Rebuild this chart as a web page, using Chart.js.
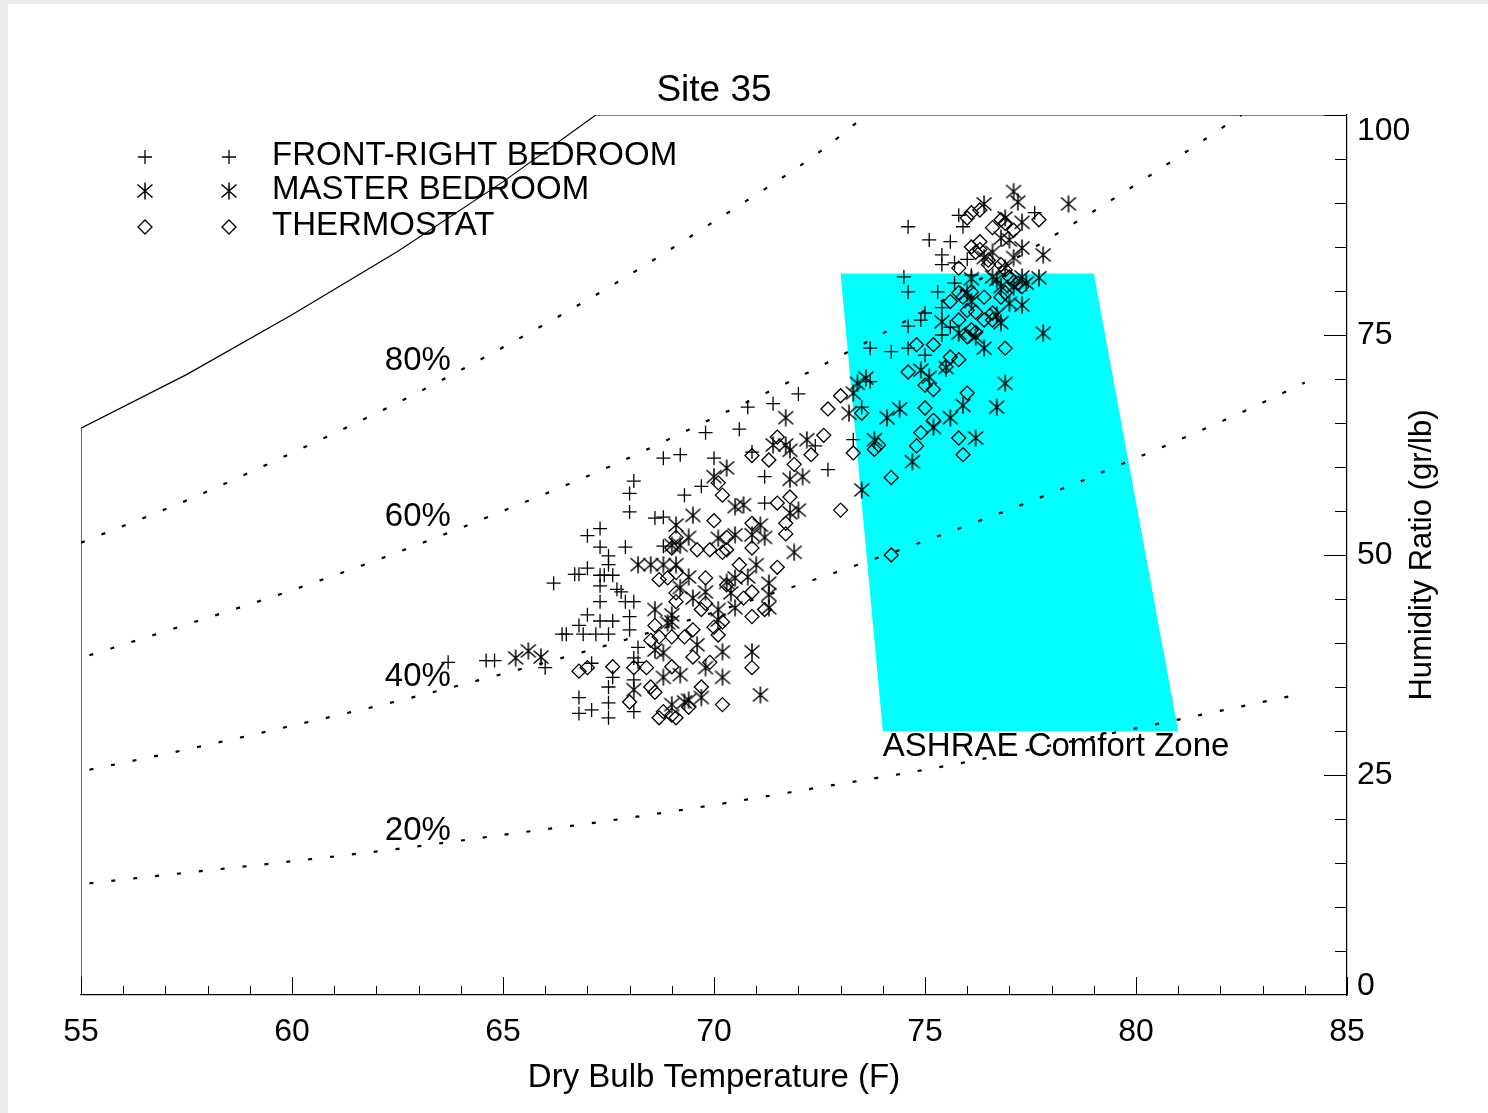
<!DOCTYPE html>
<html>
<head>
<meta charset="utf-8">
<script src="https://cdn.jsdelivr.net/npm/chart.js@4.4.1/dist/chart.umd.min.js"></script>
<style>
  html, body { margin: 0; padding: 0; background: #ececec; }
  #wrap { position: absolute; left: 8px; top: 4px; width: 1480px; height: 1109px; background: #fff; }
</style>
</head>
<body>
<div id="wrap"><canvas id="chart" width="1480" height="1109"></canvas></div>
<script>
const FONT = "'Liberation Sans', Arial, sans-serif";

// axis ticks
const xTicks = [55, 60, 65, 70, 75, 80, 85];
const yTicks = [0, 25, 50, 75, 100];

// relative humidity curves, [dry bulb F, gr/lb]
const rh20 = [[55.2, 12.7], [57.5, 13.9], [60, 15.2], [62.5, 16.6], [65, 18.2], [67.5, 19.8], [70, 21.6],
  [72.5, 23.6], [75, 25.6], [77.5, 27.9], [80, 30.3], [82.5, 32.8], [83.8, 34.1]];
const rh40 = [[55.2, 25.6], [57.5, 27.9], [60, 30.6], [62.5, 33.4], [65, 36.5], [67.5, 39.8], [70, 43.5],
  [72.5, 47.4], [75, 51.6], [77.5, 56.1], [80, 61.0], [82.5, 66.2], [84, 69.6]];
const rh60 = [[55.2, 38.6], [57.5, 42.1], [60, 46.0], [62.5, 50.3], [65, 55.0], [67.5, 60.0], [70, 65.6],
  [72.5, 71.4], [75, 77.8], [77.5, 84.7], [80, 92.1], [82.5, 100]];
const rh80 = [[55, 51.4], [57.5, 56.2], [60, 61.6], [62.5, 67.3], [65, 73.6], [67.5, 80.4], [70, 87.9],
  [72.5, 95.8], [73.6, 100]];
// saturation line with the left edge and the top edge of the frame
const saturation = [[55, 0], [55, 64.4], [57.5, 70.5], [60, 77.3], [62.5, 84.5], [65, 92.4], [67.2, 100], [85, 100]];

const rhLabels = ['80%', '60%', '40%', '20%'];
const rhLabelAt = [[62.2, 72.0], [62.2, 54.3], [62.2, 36.1], [62.2, 18.6]];

// ASHRAE comfort zone corners
const comfortT = [73, 79, 81, 74, 73];
const comfortW = [82, 82, 30, 30, 82];

const frontRight = [
  [63.7, 37.8], [64.6, 38.0], [64.8, 38.0], [66.0, 37.2], [67.1, 37.7],
  [66.2, 46.8], [66.7, 47.8], [66.8, 47.8], [67.0, 48.5], [67.3, 47.7], [67.4, 47.7], [67.5, 48.9], [67.6, 47.7],
  [67.3, 46.5], [67.7, 46.1], [67.8, 45.8], [67.3, 44.7], [67.9, 44.7], [68.1, 44.7], [67.0, 43.2], [67.3, 42.5],
  [67.6, 42.5], [68.0, 43.0], [66.8, 42.0], [66.4, 41.0], [66.5, 41.0], [66.9, 41.0], [67.2, 41.0], [67.5, 41.0],
  [68.0, 41.5], [68.2, 39.5], [68.1, 38.3], [67.6, 36.1], [67.5, 35.0], [66.8, 33.8], [66.8, 32.0], [67.1, 32.4],
  [67.5, 33.2], [67.5, 31.5], [68.1, 32.2], [68.2, 37.8], [68.1, 35.8],
  [68.1, 58.4], [68.0, 57.0], [68.0, 54.9], [68.6, 54.2], [67.3, 53.0], [67.0, 52.2], [67.3, 50.9], [67.9, 50.9],
  [67.5, 49.9],
  [72.0, 68.3], [71.4, 67.2], [70.8, 66.8], [70.6, 64.3], [69.8, 63.9], [68.8, 61.0], [69.2, 61.4], [70.0, 61.0],
  [70.9, 61.7], [72.4, 62.4], [72.7, 59.7], [71.2, 58.9], [69.7, 57.8], [69.3, 56.8], [71.2, 55.9], [68.8, 54.3],
  [68.8, 51.0], [73.3, 63.1], [73.5, 66.8], [73.7, 69.7],
  [74.6, 87.3], [75.1, 85.8], [75.8, 88.6], [75.6, 85.6], [75.4, 84.1], [75.4, 83.0], [75.7, 83.2], [76.0, 83.6],
  [74.5, 81.6], [74.6, 79.9], [75.3, 79.9], [75.7, 80.9], [76.1, 81.8], [75.4, 78.1], [75.0, 77.5], [74.9, 76.7],
  [74.6, 76.0], [75.6, 75.9], [75.4, 75.0], [73.7, 73.5], [74.2, 73.1], [74.6, 73.5], [75.0, 72.7], [77.6, 88.9],
  [75.9, 87.3]
];

const masterBed = [
  [65.3, 38.3], [65.6, 39.1], [65.9, 38.4], [68.2, 48.9], [68.5, 48.9], [68.6, 43.8], [68.6, 39.2], [68.1, 34.7],
  [71.7, 65.6], [73.2, 66.1], [73.3, 68.4], [73.4, 69.5], [72.2, 63.1], [71.4, 62.5], [71.7, 62.5], [71.8, 61.9],
  [70.3, 59.9], [70.0, 58.9], [71.8, 58.6], [72.1, 58.9], [73.5, 57.4], [70.5, 55.5], [70.7, 55.7], [71.8, 54.8],
  [72.0, 55.1], [69.5, 54.5], [69.1, 53.4], [71.1, 53.4], [69.4, 52.0], [70.1, 51.9], [70.5, 52.3], [70.9, 52.3],
  [71.2, 52.0], [69.0, 51.1], [69.2, 51.1], [71.9, 50.3], [73.8, 63.1],
  [69.1, 48.9], [69.4, 47.5], [68.8, 48.9], [71.0, 48.9], [70.5, 47.4], [70.3, 46.9], [70.8, 47.5], [71.3, 46.8],
  [70.4, 45.7], [69.8, 45.8], [69.5, 45.1], [69.2, 46.3], [71.3, 45.5], [70.5, 44.0], [71.3, 44.0], [70.1, 43.8],
  [70.1, 42.6], [69.0, 43.2], [69.0, 42.4], [68.9, 42.3], [69.6, 39.8], [70.2, 39.0], [70.9, 39.0], [68.8, 38.9],
  [69.2, 36.4], [68.8, 36.1], [69.8, 37.2], [70.2, 36.1], [69.7, 33.8], [69.3, 33.3], [69.4, 33.5], [69.0, 33.0],
  [71.1, 34.1],
  [77.1, 91.3], [77.2, 90.1], [76.4, 89.9], [78.4, 89.9], [76.9, 88.3], [77.3, 87.8], [76.8, 86.0], [77.0, 85.8],
  [77.3, 84.9], [77.8, 84.1], [76.6, 84.4], [76.4, 83.8], [76.9, 82.6], [77.1, 83.8], [77.7, 81.5], [77.3, 81.6],
  [77.4, 80.9], [76.6, 81.6], [76.7, 81.3], [76.1, 81.4], [76.8, 80.5], [77.1, 80.5], [76.0, 79.8], [76.1, 78.8],
  [77.0, 78.6], [77.3, 78.4], [76.7, 77.3], [76.8, 76.4], [75.8, 75.2], [75.4, 76.5], [76.2, 74.8], [76.4, 73.5],
  [77.8, 75.2], [75.5, 71.3], [74.9, 71.0], [75.1, 70.2], [73.6, 70.1],
  [76.9, 69.5], [75.9, 67.0], [76.7, 66.8], [74.4, 66.6], [74.1, 65.6], [75.6, 65.6], [75.2, 64.5], [76.2, 63.3],
  [74.7, 60.6]
];

const thermostat = [
  [66.8, 36.8], [67.0, 37.2], [67.6, 37.3], [68.1, 37.2], [68.4, 37.2], [68.0, 33.3], [68.5, 35.0], [68.6, 34.4],
  [68.6, 42.0], [68.7, 40.7], [68.5, 40.3], [68.7, 47.2],
  [73.0, 68.1], [72.7, 66.6], [73.5, 66.1], [72.6, 63.6], [71.5, 63.4], [70.9, 61.3], [71.3, 60.8], [72.3, 61.4],
  [71.9, 60.3], [73.3, 61.6], [73.8, 62.0], [70.1, 58.2], [70.2, 56.8], [71.5, 55.9], [71.8, 56.6], [73.0, 55.1],
  [70.0, 53.9], [70.9, 53.6], [71.7, 53.6], [71.7, 52.4], [70.3, 52.0], [69.1, 52.0], [70.9, 50.8], [70.2, 50.3],
  [70.3, 50.6], [69.6, 50.6], [69.9, 50.6], [69.0, 50.8],
  [71.5, 48.6], [70.6, 48.9], [69.8, 47.4], [69.1, 48.0], [70.9, 45.8], [70.7, 45.1], [70.3, 46.6], [71.2, 43.8],
  [70.9, 43.0], [70.2, 42.4], [69.8, 44.5], [69.7, 43.8], [70.0, 41.8], [70.1, 40.9], [69.5, 41.5], [69.3, 40.7],
  [69.0, 40.7], [69.1, 44.7], [69.1, 45.7], [68.9, 47.4], [69.5, 38.4], [69.9, 37.8], [70.9, 37.2], [69.0, 37.3],
  [69.7, 35.0], [70.2, 33.0], [69.1, 31.5], [69.0, 31.8], [69.4, 32.7], [68.8, 32.2], [68.7, 31.5],
  [76.0, 88.3], [76.1, 88.9], [76.3, 89.2], [76.6, 87.2], [76.8, 88.1], [76.9, 87.7], [77.7, 88.1], [77.1, 86.9],
  [76.3, 85.6], [76.1, 85.0], [76.2, 84.4], [76.3, 84.7], [76.5, 83.5], [76.5, 83.0], [76.8, 83.0], [76.9, 82.4],
  [77.0, 81.6], [75.8, 82.6], [77.1, 81.0], [77.2, 80.9], [77.3, 80.5], [76.1, 79.9], [75.8, 79.8], [75.9, 79.3],
  [75.6, 78.8], [76.4, 79.3], [76.9, 79.8], [76.8, 79.3], [76.0, 77.8], [76.2, 77.6], [75.8, 76.7], [76.4, 76.7],
  [76.6, 76.7], [76.1, 75.6], [76.2, 75.3], [76.0, 74.8], [76.6, 77.5], [76.9, 73.5], [74.8, 73.9], [75.2, 73.9],
  [75.6, 72.5], [75.8, 72.2], [74.6, 70.8], [75.5, 71.4],
  [75.0, 69.3], [75.2, 68.8], [76.0, 68.4], [75.0, 66.7], [75.2, 65.3], [74.9, 63.9], [75.8, 63.3], [73.9, 62.5],
  [74.8, 62.4], [75.9, 61.4], [74.2, 58.8], [74.2, 50.0]
];

const seriesNames = ['FRONT-RIGHT BEDROOM', 'MASTER BEDROOM', 'THERMOSTAT'];

const xy = arr => arr.map(p => ({ x: p[0], y: p[1] }));

// six armed asterisk like the original plot symbol
const star = document.createElement('canvas');
star.width = 18; star.height = 18;
(function () {
  const c = star.getContext('2d');
  c.strokeStyle = '#000';
  c.lineWidth = 1.5;
  c.beginPath();
  c.moveTo(9, 0.5); c.lineTo(9, 17.5);
  c.moveTo(1.5, 2.5); c.lineTo(16.5, 15.5);
  c.moveTo(16.5, 2.5); c.lineTo(1.5, 15.5);
  c.stroke();
})();

const dotted = data => ({
  data: xy(data),
  borderColor: '#000',
  borderWidth: 2.2,
  borderDash: [4, 18],
  pointRadius: 0,
  fill: false,
  cubicInterpolationMode: 'monotone',
  order: 5
});

const points = (data, style, radius) => ({
  data: xy(data),
  showLine: false,
  pointStyle: style,
  pointRadius: radius,
  pointBorderColor: '#000',
  pointBackgroundColor: 'rgba(0,0,0,0)',
  pointBorderWidth: 1.3,
  order: 1
});

const decorations = {
  id: 'decorations',
  afterDraw(chart) {
    const { ctx, chartArea: a, scales: { x, y } } = chart;
    ctx.save();
    ctx.strokeStyle = '#000';
    ctx.lineWidth = 1;
    ctx.beginPath();
    // inward tick marks
    for (let t = 55; t <= 85; t++) {
      const px = Math.round(x.getPixelForValue(t)) + 0.5;
      const len = xTicks.includes(t) ? 18 : 9;
      ctx.moveTo(px, a.bottom);
      ctx.lineTo(px, a.bottom - len);
    }
    for (let v = 5; v <= 100; v += 5) {
      const py = Math.round(y.getPixelForValue(v)) + 0.5;
      const len = yTicks.includes(v) ? 23 : 12;
      ctx.moveTo(a.right, py);
      ctx.lineTo(a.right - len, py);
    }
    ctx.stroke();

    ctx.fillStyle = '#000';
    ctx.textBaseline = 'middle';

    // right axis labels, end labels kept inside the frame height
    ctx.font = '32px ' + FONT;
    ctx.textAlign = 'left';
    yTicks.forEach(v => {
      let py = y.getPixelForValue(v);
      if (v === yTicks[yTicks.length - 1]) py += 16;
      if (v === yTicks[0]) py -= 9;
      ctx.fillText(String(v), a.right + 10, py);
    });

    // title
    ctx.font = '37px ' + FONT;
    ctx.textAlign = 'center';
    ctx.fillText('Site 35', (a.left + a.right) / 2, 87);

    // right axis title, reading upwards
    ctx.save();
    ctx.font = '31px ' + FONT;
    ctx.translate(1414, (a.top + a.bottom) / 2);
    ctx.rotate(-Math.PI / 2);
    ctx.fillText('Humidity Ratio (gr/lb)', 0, 0);
    ctx.restore();

    // RH labels and comfort zone label
    ctx.font = '33px ' + FONT;
    ctx.textAlign = 'left';
    rhLabels.forEach((t, i) => {
      ctx.fillText(t, x.getPixelForValue(rhLabelAt[i][0]), y.getPixelForValue(rhLabelAt[i][1]));
    });
    ctx.fillText('ASHRAE Comfort Zone', x.getPixelForValue(comfortT[3]), y.getPixelForValue(28.2));

    // legend
    const rows = [153, 187, 223];
    rows.forEach((ry, i) => {
      [137, 221].forEach(sx => {
        ctx.beginPath();
        ctx.lineWidth = 1.3;
        if (i === 0) {
          ctx.moveTo(sx - 7, ry); ctx.lineTo(sx + 7, ry);
          ctx.moveTo(sx, ry - 7); ctx.lineTo(sx, ry + 7);
          ctx.stroke();
        } else if (i === 1) {
          ctx.drawImage(star, sx - 9, ry - 9);
        } else {
          ctx.moveTo(sx - 7, ry); ctx.lineTo(sx, ry - 7);
          ctx.lineTo(sx + 7, ry); ctx.lineTo(sx, ry + 7);
          ctx.closePath();
          ctx.stroke();
        }
      });
      ctx.fillText(seriesNames[i], 264, ry - 1);
    });
    ctx.restore();
  }
};

new Chart(document.getElementById('chart'), {
  type: 'line',
  data: {
    datasets: [
      {
        data: comfortT.map((t, i) => ({ x: t, y: comfortW[i] })),
        borderWidth: 0,
        borderColor: 'rgba(0,0,0,0)',
        backgroundColor: '#00ffff',
        pointRadius: 0,
        fill: 'shape',
        order: 10
      },
      dotted(rh20),
      dotted(rh40),
      dotted(rh60),
      dotted(rh80),
      {
        data: xy(saturation),
        borderColor: '#000',
        borderWidth: 1.2,
        pointRadius: 0,
        fill: false,
        order: 4
      },
      points(frontRight, 'cross', 7),
      points(masterBed, star, 9),
      points(thermostat, 'rectRot', 7)
    ]
  },
  options: {
    responsive: false,
    animation: false,
    devicePixelRatio: 1,
    layout: { padding: { left: 73, top: 111, right: 0, bottom: 0 } },
    plugins: {
      legend: { display: false },
      tooltip: { enabled: false },
      title: { display: false }
    },
    scales: {
      x: {
        type: 'linear',
        min: 55,
        max: 85,
        afterBuildTicks: s => { s.ticks = xTicks.map(v => ({ value: v })); },
        afterFit: s => { s.height = 118; },
        grid: { display: false, drawTicks: false, tickLength: 0 },
        border: { display: true, color: '#000', width: 1.2 },
        ticks: { padding: 18, color: '#000', font: { family: FONT, size: 32 }, maxRotation: 0, autoSkip: false },
        title: {
          display: true,
          text: 'Dry Bulb Temperature (F)',
          color: '#000',
          font: { family: FONT, size: 33 },
          padding: { top: 0, bottom: 15 }
        }
      },
      y: {
        type: 'linear',
        position: 'right',
        min: 0,
        max: 100,
        afterBuildTicks: s => { s.ticks = yTicks.map(v => ({ value: v })); },
        afterFit: s => { s.width = 141; },
        grid: { display: false, drawTicks: false, tickLength: 0 },
        border: { display: true, color: '#000', width: 1.2 },
        ticks: { display: false }
      }
    }
  },
  plugins: [decorations]
});
</script>
</body>
</html>
